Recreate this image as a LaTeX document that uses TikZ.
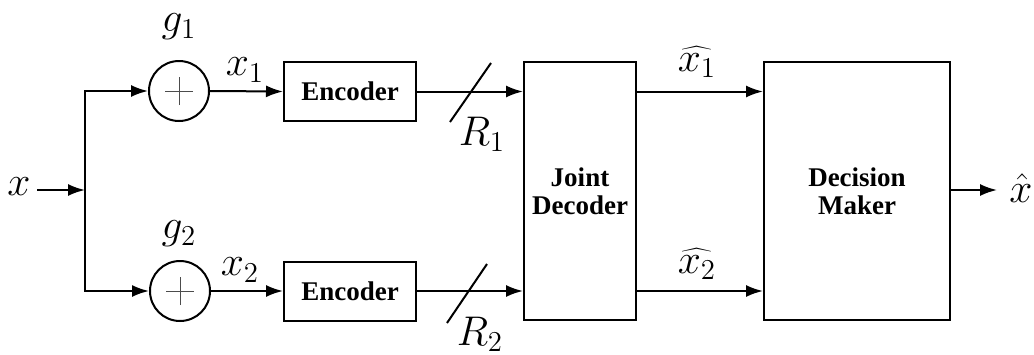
\documentclass[tikz,border=0pt]{standalone}
\usepackage{fontspec}
\newfontfamily\boxfont[BoldFont={Liberation Serif Bold}]{Liberation Serif}
\usetikzlibrary{arrows.meta,calc}
\begin{document}
\begin{tikzpicture}[x=0.5pt,y=-0.5pt,
  line width=1pt,
  arr/.style={-{Latex[length=8.5pt,width=6pt]}},
  blk/.style={draw,rectangle,inner sep=0pt,font=\boxfont\fontsize{13.5}{15}\selectfont\bfseries,align=center},
  sum/.style={draw,circle,minimum size=30pt,inner sep=0pt},
  lab/.style={font=\fontsize{22}{24}\selectfont,inner sep=0pt}]
\useasboundingbox (0,0) rectangle (1034,354);
% nodes
\node[lab] (xin) at (19,187) {$x$};
\coordinate (split) at (85,190);
\node[sum] (g1) at (179,91) {};
\node[sum] (g2) at (180,291) {};
\draw[line width=0.5pt,gray!60!black] ($(g1)+(-7pt,0)$) -- ($(g1)+(7pt,0)$) ($(g1)+(0,-7pt)$) -- ($(g1)+(0,7pt)$);
\draw[line width=0.5pt,gray!60!black] ($(g2)+(-7pt,0)$) -- ($(g2)+(7pt,0)$) ($(g2)+(0,-7pt)$) -- ($(g2)+(0,7pt)$);
\node[blk,minimum width=66pt,minimum height=29.5pt] (enc1) at (350,91.5) {Encoder};
\node[blk,minimum width=66pt,minimum height=29.5pt] (enc2) at (350,291) {Encoder};
\node[blk,minimum width=56pt,minimum height=129pt] (jd) at (580,191) {Joint\\[-1pt]Decoder};
\node[blk,minimum width=93pt,minimum height=129pt] (dm) at (857,191) {Decision\\[-1pt]Maker};
\node[lab] (xout) at (1021,188) {$\hat{x}$};
% labels
\node[lab] (lg1) at (179,27) {$g_1$};
\node[lab] (lg2) at (179,234) {$g_2$};
\node[lab] (lx1) at (245,70) {$x_1$};
\node[lab] (lx2) at (240,270) {$x_2$};
\node[lab] (lR1) at (482,134) {$R_1$};
\node[lab] (lR2) at (480,334) {$R_2$};
\node[lab] (lh1) at (697,62) {$\widehat{x_1}$};
\node[lab] (lh2) at (697,264) {$\widehat{x_2}$};
% connectors
\coordinate (xs) at (37,190);
\draw[arr] (xs) -- (split);
\draw[arr] (split) |- (g1.west);
\draw[arr] (split) |- (g2.west);
\draw[arr] (g1.east) -- (enc1.west);
\draw[arr] (g2.east) -- (enc2.west);
\draw[arr] (enc1.east) -- (enc1.east -| jd.west);
\draw[arr] (enc2.east) -- (enc2.east -| jd.west);
\coordinate (h1) at (jd.east |- enc1.east);
\coordinate (h2) at (jd.east |- enc2.east);
\draw[arr] (h1) -- (h1 -| dm.west);
\draw[arr] (h2) -- (h2 -| dm.west);
\coordinate (xe) at (997,190);
\draw[arr] (dm.east |- split) -- (xe);
% slashes
\coordinate (s1a) at (450,122); \coordinate (s1b) at (491,63);
\coordinate (s2a) at (447,323); \coordinate (s2b) at (487,264);
\draw (s1a) -- (s1b);
\draw (s2a) -- (s2b);
\end{tikzpicture}
\end{document}
